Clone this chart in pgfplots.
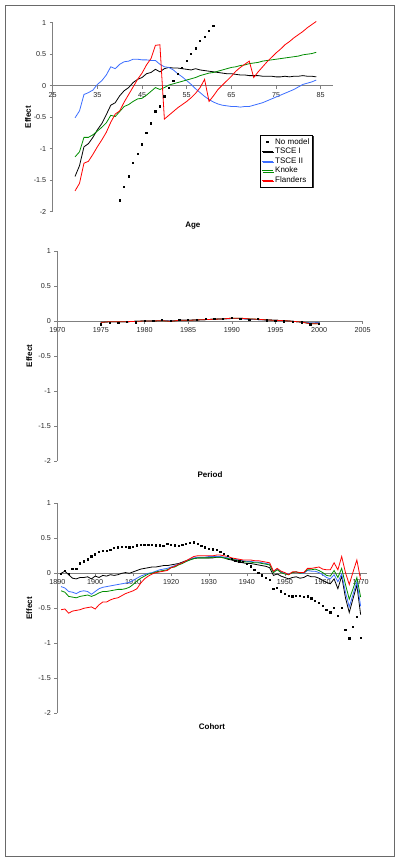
\documentclass[border=0pt]{standalone}
\usepackage{fontspec}
\setmainfont{Liberation Sans}
\usepackage{pgfplots}
\pgfplotsset{compat=1.18}
\usepackage{pgfplotstable}
\usetikzlibrary{shadows}
\definecolor{tsceblue}{RGB}{60,110,255}
\definecolor{knokegreen}{RGB}{0,140,0}
\definecolor{axgray}{RGB}{128,128,128}
\definecolor{framegray}{RGB}{105,105,105}

\pgfplotstableread{
age bk bl gr rd
30 -1.44 -0.51 -1.13 -1.67
31 -1.27 -0.40 -1.05 -1.55
32 -0.97 -0.14 -0.82 -1.23
33 -0.92 -0.11 -0.82 -1.20
34 -0.82 -0.07 -0.78 -1.09
35 -0.70 0.02 -0.72 -0.97
36 -0.60 0.08 -0.66 -0.86
37 -0.46 0.17 -0.59 -0.74
38 -0.31 0.30 -0.47 -0.58
39 -0.27 0.27 -0.49 -0.45
40 -0.16 0.34 -0.41 -0.40
41 -0.08 0.38 -0.33 -0.26
42 -0.03 0.39 -0.30 -0.14
43 0.05 0.42 -0.25 -0.02
44 0.10 0.42 -0.21 0.10
45 0.13 0.41 -0.20 0.20
46 0.19 0.41 -0.15 0.33
47 0.21 0.40 -0.09 0.43
48 0.26 0.40 -0.03 0.64
49 0.22 0.34 -0.06 0.65
50 0.27 0.30 -0.03 -0.53
51 0.29 0.29 0.01 -0.47
52 0.28 0.25 0.03 -0.41
53 0.28 0.19 0.05 -0.35
54 0.27 0.14 0.07 -0.30
55 0.26 0.08 0.09 -0.25
56 0.25 0.02 0.11 -0.19
57 0.27 -0.05 0.13 -0.12
58 0.25 -0.11 0.16 -0.03
59 0.24 -0.17 0.18 0.10
60 0.23 -0.22 0.20 -0.25
61 0.22 -0.26 0.21 -0.16
62 0.21 -0.29 0.23 -0.06
63 0.20 -0.31 0.25 0.01
64 0.19 -0.32 0.27 0.08
65 0.19 -0.33 0.29 0.15
66 0.18 -0.33 0.30 0.23
67 0.17 -0.34 0.32 0.29
68 0.17 -0.33 0.33 0.34
69 0.16 -0.33 0.35 0.39
70 0.16 -0.31 0.36 0.13
71 0.16 -0.29 0.37 0.22
72 0.15 -0.27 0.39 0.30
73 0.15 -0.24 0.40 0.38
74 0.15 -0.21 0.41 0.45
75 0.14 -0.18 0.42 0.52
76 0.14 -0.15 0.43 0.58
77 0.15 -0.12 0.44 0.65
78 0.14 -0.09 0.45 0.70
79 0.15 -0.06 0.46 0.76
80 0.15 -0.02 0.47 0.81
81 0.16 0.02 0.49 0.86
82 0.15 0.04 0.50 0.92
83 0.15 0.06 0.51 0.97
84 0.14 0.09 0.53 1.02
}\agedata

\pgfplotstableread{
age nm
40 -1.82
41 -1.61
42 -1.44
43 -1.23
44 -1.08
45 -0.93
46 -0.75
47 -0.60
48 -0.41
49 -0.33
50 -0.17
51 -0.04
52 0.08
53 0.19
54 0.28
55 0.39
56 0.50
57 0.59
58 0.71
59 0.78
60 0.87
61 0.95
}\agenm

\pgfplotstableread{
yr nm bk bl gr rd
1975 -0.05 -0.02 -0.02 -0.02 -0.02
1976 -0.03 -0.01 -0.01 -0.01 -0.01
1977 -0.03 -0.01 -0.01 -0.01 -0.01
1978 -0.015 -0.01 -0.01 -0.01 -0.01
1979 -0.02 -0.005 -0.005 -0.005 -0.005
1980 0.005 0 0 0 0
1981 0 0 0 0 0
1982 0.015 0.005 0.01 0.005 0.005
1983 0.005 0 0 -0.005 -0.005
1984 0.02 0.01 0.01 0.01 0.01
1985 0.015 0.01 0.01 0.01 0.01
1986 0.015 0.015 0.015 0.015 0.015
1987 0.03 0.02 0.02 0.02 0.02
1988 0.03 0.025 0.025 0.025 0.025
1989 0.03 0.03 0.03 0.03 0.03
1990 0.04 0.035 0.035 0.04 0.04
1991 0.03 0.035 0.035 0.04 0.04
1992 0.015 0.025 0.025 0.03 0.03
1993 0.025 0.02 0.02 0.025 0.025
1994 0.01 0.015 0.015 0.015 0.015
1995 0 0.01 0.01 0.01 0.01
1996 -0.005 0.005 0.005 0.005 0.005
1997 -0.01 -0.005 -0.005 -0.005 -0.005
1998 -0.02 -0.015 -0.015 -0.015 -0.015
1999 -0.05 -0.03 -0.03 -0.04 -0.04
2000 -0.045 -0.025 -0.025 -0.04 -0.04
}\perdata

\pgfplotstableread{
yr nm bk bl gr rd
1891 -0.01 0.00 -0.19 -0.25 -0.52
1892 0.03 0.03 -0.21 -0.27 -0.51
1893 -0.01 -0.02 -0.26 -0.33 -0.57
1894 0.06 -0.07 -0.27 -0.34 -0.54
1895 0.06 -0.08 -0.29 -0.35 -0.53
1896 0.14 -0.06 -0.26 -0.33 -0.52
1897 0.17 -0.06 -0.25 -0.32 -0.50
1898 0.20 -0.05 -0.26 -0.31 -0.49
1899 0.24 -0.08 -0.30 -0.33 -0.48
1900 0.27 -0.04 -0.26 -0.31 -0.51
1901 0.31 -0.06 -0.22 -0.28 -0.45
1902 0.32 -0.03 -0.20 -0.26 -0.41
1903 0.32 -0.04 -0.19 -0.26 -0.41
1904 0.33 -0.02 -0.18 -0.25 -0.38
1905 0.36 -0.03 -0.17 -0.24 -0.36
1906 0.37 -0.02 -0.16 -0.23 -0.35
1907 0.38 0.00 -0.15 -0.23 -0.32
1908 0.38 0.01 -0.14 -0.22 -0.29
1909 0.37 0.00 -0.13 -0.20 -0.27
1910 0.38 0.02 -0.10 -0.16 -0.25
1911 0.40 0.04 -0.07 -0.11 -0.22
1912 0.41 0.06 -0.04 -0.07 -0.14
1913 0.41 0.07 -0.02 -0.04 -0.08
1914 0.41 0.08 0.00 -0.01 -0.04
1915 0.41 0.09 0.01 0.00 -0.01
1916 0.40 0.09 0.03 0.02 0.01
1917 0.40 0.10 0.05 0.03 0.02
1918 0.39 0.11 0.06 0.04 0.03
1919 0.42 0.11 0.07 0.05 0.04
1920 0.41 0.12 0.09 0.08 0.08
1921 0.40 0.13 0.11 0.09 0.10
1922 0.39 0.14 0.13 0.12 0.13
1923 0.41 0.16 0.15 0.14 0.15
1924 0.42 0.18 0.17 0.17 0.18
1925 0.43 0.20 0.20 0.19 0.21
1926 0.44 0.21 0.22 0.21 0.24
1927 0.42 0.22 0.23 0.22 0.25
1928 0.39 0.22 0.23 0.22 0.25
1929 0.37 0.22 0.23 0.22 0.25
1930 0.35 0.22 0.24 0.22 0.25
1931 0.34 0.22 0.24 0.23 0.25
1932 0.33 0.23 0.24 0.23 0.26
1933 0.31 0.23 0.24 0.23 0.26
1934 0.28 0.22 0.23 0.22 0.25
1935 0.25 0.20 0.22 0.21 0.24
1936 0.21 0.19 0.21 0.20 0.22
1937 0.18 0.17 0.20 0.19 0.21
1938 0.17 0.16 0.19 0.18 0.20
1939 0.16 0.15 0.18 0.17 0.19
1940 0.13 0.14 0.17 0.16 0.19
1941 0.10 0.14 0.17 0.16 0.19
1942 0.05 0.13 0.16 0.15 0.18
1943 0.01 0.12 0.16 0.15 0.18
1944 -0.03 0.11 0.15 0.14 0.17
1945 -0.07 0.10 0.14 0.13 0.16
1946 -0.09 0.08 0.13 0.12 0.15
1947 -0.22 -0.03 0.02 0.01 0.03
1948 -0.21 -0.01 0.06 0.05 0.07
1949 -0.26 -0.04 0.02 0.01 0.03
1950 -0.29 -0.06 0.00 -0.01 0.01
1951 -0.32 -0.08 -0.01 -0.02 -0.02
1952 -0.33 -0.06 0.01 0.01 0.02
1953 -0.32 -0.05 0.02 0.02 0.02
1954 -0.32 -0.07 0.00 0.00 0.01
1955 -0.34 -0.06 0.00 0.01 0.01
1956 -0.33 -0.03 0.04 0.05 0.07
1957 -0.36 -0.05 0.03 0.05 0.07
1958 -0.39 -0.05 0.03 0.06 0.08
1959 -0.42 -0.07 0.01 0.04 0.09
1960 -0.47 -0.10 -0.02 0.01 0.06
1961 -0.52 -0.13 -0.06 -0.03 0.05
1962 -0.56 -0.15 -0.08 -0.04 0.05
1963 -0.49 -0.08 -0.02 0.04 0.15
1964 -0.61 -0.22 -0.12 -0.06 0.05
1965 -0.49 -0.04 -0.01 0.07 0.24
1966 -0.81 -0.35 -0.27 -0.16 0.01
1967 -0.93 -0.56 -0.48 -0.37 -0.16
1968 -0.77 -0.36 -0.30 -0.22 0.02
1969 -0.62 -0.17 -0.12 -0.06 0.19
1970 -0.92 -0.59 -0.47 -0.34 -0.09
}\cohdata

\pgfplotsset{
  excel/.style={
    scale only axis, anchor=south west,
    axis x line*=middle, axis y line*=left,
    ymin=-2, ymax=1,
    ytick={-2,-1.5,-1,-0.5,0,0.5,1},
    yticklabels={-2,-1.5,-1,-0.5,0,0.5,1},
    axis line style={draw=axgray, line width=0.6pt},
    tick style={draw=axgray, line width=0.5pt},
    major tick length=3pt,
    tick align=outside,
    tick label style={font=\fontsize{7.2}{8}\selectfont, text=black!85},
    hide obscured x ticks=false,
    hide obscured y ticks=false,
    every axis x label/.style={at={(axis description cs:0.5,0)}, anchor=center, yshift=-13.5pt, font=\fontsize{8}{9}\selectfont\bfseries},
    every axis y label/.style={at={([xshift=-#1]axis description cs:0,0.5)}, anchor=center, rotate=90, font=\fontsize{8}{9}\selectfont\bfseries},
    every axis plot/.append style={line width=0.8pt},
    nm/.style={only marks, mark=square*, mark size=0.65pt, black},
    clip=false,
  }
}

\begin{document}
\begin{tikzpicture}
\useasboundingbox (0pt,0pt) rectangle (400pt,862pt);
\draw[framegray, line width=1.3pt] (5.5pt,5.5pt) rectangle (394.5pt,856.5pt);

% Age panel
\begin{axis}[excel=24.7pt,
  at={(52.7pt,650.3pt)}, width=280.3pt, height=189pt,
  xmin=25, xmax=87.75,
  xtick={25,35,45,55,65,75,85},
  xticklabels={25,35,45,55,65,75,85},
  xlabel={Age}, ylabel={Effect},
  legend style={at={(axis description cs:0.74,0.406)}, anchor=north west,
    font=\fontsize{8}{9.5}\selectfont, draw=black, line width=0.5pt, fill=white,
    inner sep=1pt, row sep=-1.5pt,
    drop shadow={shadow xshift=1.2pt, shadow yshift=-1.2pt, opacity=1, fill=black!80}},
  legend cell align=left,
  legend image code/.code={\draw[mark repeat=2,mark phase=2,#1] plot coordinates {(0pt,0pt) (5.5pt,0pt) (11pt,0pt)};},
]
\addplot[nm] table[x=age,y=nm] {\agenm};
\addplot[black] table[x=age,y=bk] {\agedata};
\addplot[tsceblue] table[x=age,y=bl] {\agedata};
\addplot[knokegreen] table[x=age,y=gr] {\agedata};
\addplot[red] table[x=age,y=rd] {\agedata};
\legend{No model, TSCE I, TSCE II, Knoke, Flanders}
\end{axis}

% Period panel
\begin{axis}[excel=28pt,
  at={(57.3pt,401pt)}, width=305.4pt, height=210pt,
  xmin=1970, xmax=2005,
  xtick={1970,1975,1980,1985,1990,1995,2000,2005},
  xticklabels={1970,1975,1980,1985,1990,1995,2000,2005},
  xlabel={Period}, ylabel={Effect},
]
\addplot[nm] table[x=yr,y=nm] {\perdata};
\addplot[black] table[x=yr,y=bk] {\perdata};
\addplot[tsceblue] table[x=yr,y=bl] {\perdata};
\addplot[knokegreen] table[x=yr,y=gr] {\perdata};
\addplot[red] table[x=yr,y=rd] {\perdata};
\end{axis}

% Cohort panel
\begin{axis}[excel=28pt,
  at={(57.3pt,148.7pt)}, width=309.4pt, height=210pt,
  xmin=1890, xmax=1971.6,
  xtick={1890,1900,1910,1920,1930,1940,1950,1960,1970},
  xticklabels={1890,1900,1910,1920,1930,1940,1950,1960,1970},
  xlabel={Cohort}, ylabel={Effect},
]
\addplot[nm] table[x=yr,y=nm] {\cohdata};
\addplot[black] table[x=yr,y=bk] {\cohdata};
\addplot[tsceblue] table[x=yr,y=bl] {\cohdata};
\addplot[knokegreen] table[x=yr,y=gr] {\cohdata};
\addplot[red] table[x=yr,y=rd] {\cohdata};
\end{axis}
\end{tikzpicture}
\end{document}
